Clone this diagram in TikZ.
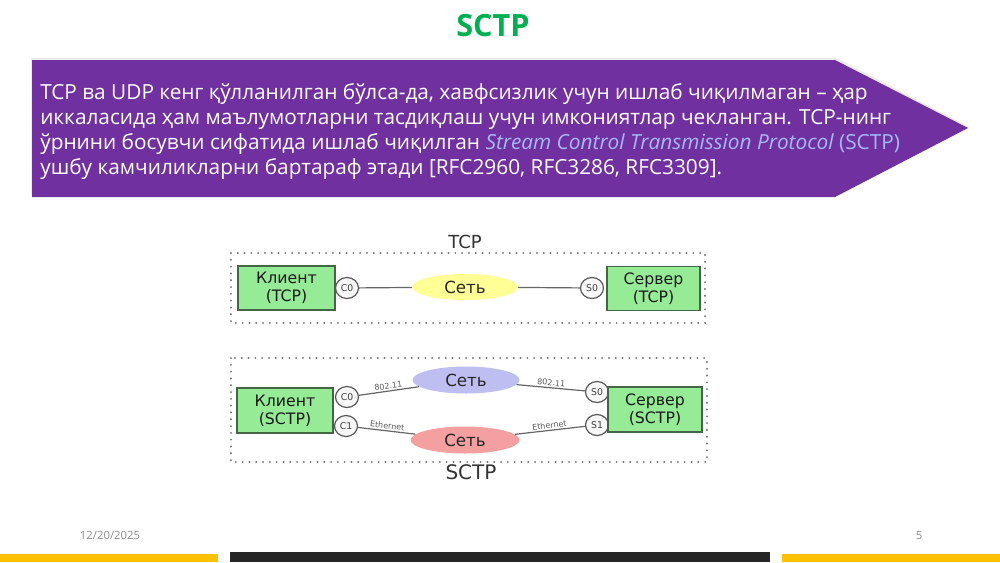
\documentclass[tikz,border=0pt]{standalone}
\usepackage{fontspec}
\setmainfont{Open Sans}
\newfontfamily\dv{DejaVu Sans}
\usetikzlibrary{shapes.geometric}
\definecolor{bannerpurple}{RGB}{112,48,160}
\definecolor{titlegreen}{RGB}{0,176,80}
\definecolor{baryellow}{RGB}{255,192,0}
\definecolor{bardark}{RGB}{38,38,38}
\definecolor{linkblue}{RGB}{165,185,250}
\definecolor{boxfill}{RGB}{150,235,150}
\definecolor{boxline}{RGB}{70,100,70}
\definecolor{netyellow}{RGB}{255,255,150}
\definecolor{netblue}{RGB}{190,190,240}
\definecolor{netred}{RGB}{245,160,160}
\definecolor{datagray}{RGB}{140,140,140}
\tikzset{
  hostbox/.style={draw=boxline, fill=boxfill, line width=1pt, minimum width=#1*0.75pt, minimum height=44*0.75pt, inner sep=0, align=center, font=\dv\fontsize{11.8}{13.5}\selectfont, text=black!90},
  portnode/.style={ellipse, draw=black!65, fill=black!3, line width=0.9pt, minimum width=23*0.75pt, minimum height=21*0.75pt, inner sep=0, font=\dv\fontsize{7}{8}\selectfont, text=black!75},
  netnode/.style={ellipse, fill=#1, minimum width=106*0.75pt, minimum height=26*0.75pt, inner sep=0, font=\dv\fontsize{12.5}{14}\selectfont, text=black!85},
  frame/.style={draw=black!55, line width=1.5pt, dash pattern=on 0.1pt off 5pt, line cap=round},
  wire/.style={draw=black!60, line width=0.9pt},
  wirelabel/.style={font=\dv\fontsize{6}{7}\selectfont, text=black!65, inner sep=1pt},
}
\begin{document}
\begin{tikzpicture}[x=0.75pt, y=-0.75pt]
\useasboundingbox (0,0) rectangle (1000,562);
\fill[white] (0,0) rectangle (1000,562);

% title
\node[font=\bfseries\fontsize{23}{26}\selectfont, text=titlegreen] (title) at (493,26) {SCTP};

% banner shadow and banner
\fill[black!15, opacity=0.5] (31,57.5) -- (836,57.5) -- (969,127) -- (836,195) -- (31,195) -- cycle;
\fill[bannerpurple] (32,60) -- (835,60) -- (968,128) -- (835,197) -- (32,197) -- cycle;
\node[anchor=north west, inner sep=0, align=left, text=white, font=\fontsize{15.6}{18.75}\selectfont] (btext) at (40,83.5) {%
TCP ва UDP кенг қўлланилган бўлса-да, хавфсизлик учун ишлаб чиқилмаган – ҳар\\
иккаласида ҳам маълумотларни тасдиқлаш учун имкониятлар чекланган. TCP-нинг\\
ўрнини босувчи сифатида ишлаб чиқилган {\color{linkblue}\itshape Stream Control Transmission Protocol} {\color{linkblue}(SCTP)}\\
ушбу камчиликларни бартараф этади [RFC2960, RFC3286, RFC3309].};

% TCP diagram
\draw[frame] (231,253) rectangle (705,323);
\node[font=\dv\fontsize{13.5}{15}\selectfont, text=black!80] (tcplabel) at (465,242) {TCP};
\node[hostbox=97] (cl1) at (286.5,288) {Клиент\\(TCP)};
\node[portnode] (c0t) at (347,288) {C0};
\node[netnode=netyellow] (net1) at (465,287) {Сеть};
\node[portnode] (s0t) at (592,288) {S0};
\node[hostbox=93] (sv1) at (653.5,288.5) {Сервер\\(TCP)};
\draw[wire] (c0t) -- (net1);
\draw[wire] (net1) -- (s0t);

% SCTP diagram
\draw[frame] (231,358) rectangle (707,462);
\node[font=\dv\fontsize{15}{17}\selectfont, text=black!80] (sctplabel) at (471,472) {SCTP};
\node[hostbox=96, minimum height=45*0.75pt] (cl2) at (285,410.5) {Клиент\\(SCTP)};
\node[portnode] (c0s) at (347,397) {C0};
\node[portnode] (c1s) at (346,426) {C1};
\node[netnode=netblue, minimum width=107*0.75pt, minimum height=27*0.75pt] (netb) at (466,380) {Сеть};
\node[netnode=netred, minimum width=109*0.75pt, minimum height=27*0.75pt] (netr) at (465,440) {Сеть};
\node[portnode] (s0s) at (597,392) {S0};
\node[portnode] (s1s) at (597,425) {S1};
\node[hostbox=94, minimum height=45*0.75pt] (sv2) at (655,409.5) {Сервер\\(SCTP)};
\draw[wire] (c0s) -- node[wirelabel, above, sloped] {802.11} (netb);
\draw[wire] (netb) -- node[wirelabel, above, sloped] {802.11} (s0s);
\draw[wire] (c1s) -- node[wirelabel, above, sloped] {Ethernet} (netr);
\draw[wire] (netr) -- node[wirelabel, above, sloped] {Ethernet} (s1s);

% footer
\node[font=\fontsize{8.5}{10}\selectfont, text=datagray] (date) at (110,535.5) {12/20/2025};
\node[font=\fontsize{8.5}{10}\selectfont, text=datagray] (pagenum) at (919,535.5) {5};
\fill[baryellow] (0,554) rectangle (218,562);
\fill[bardark] (230,552) rectangle (770,562);
\fill[baryellow] (782,554) rectangle (1000,562);
\end{tikzpicture}
\end{document}
